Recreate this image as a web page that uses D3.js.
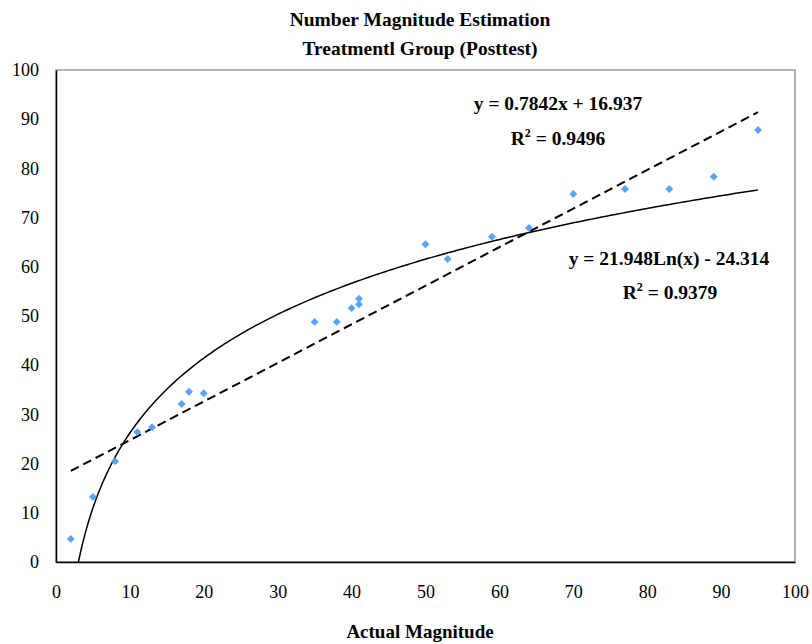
<!DOCTYPE html>
<html>
<head>
<meta charset="utf-8">
<script src="https://cdn.jsdelivr.net/npm/d3@7"></script>
<style>
  body { margin: 0; background: #fff; }
</style>
</head>
<body>
<div id="chart"></div>
<script>
// data
const actual = [2, 5, 8, 11, 13, 17, 18, 20, 35, 38, 40, 41, 41, 50, 53, 59, 64, 70, 77, 83, 89, 95];
const estimate = [4.7, 13.2, 20.5, 26.4, 27.4, 32.1, 34.6, 34.3, 48.8, 48.8, 51.6, 53.5, 52.4, 64.6, 61.6, 66.1, 67.9, 74.8, 75.8, 75.8, 78.3, 87.8];
const xTicks = [0, 10, 20, 30, 40, 50, 60, 70, 80, 90, 100];
const yTicks = [0, 10, 20, 30, 40, 50, 60, 70, 80, 90, 100];
const linFit = { slope: 0.7842, intercept: 16.937 };
const logFit = { a: 21.948, b: -24.314 };

const FONT = '"Liberation Serif", "Times New Roman", "DejaVu Serif", serif';
const width = 812;
const height = 644;
const margin = { top: 70, right: 17, bottom: 82, left: 56 };

const svg = d3.select("#chart")
  .append("svg")
  .attr("width", width)
  .attr("height", height)
  .style("font-family", FONT);

const x = d3.scaleLinear().domain([0, 100]).range([margin.left, width - margin.right]);
const y = d3.scaleLinear().domain([0, 100]).range([height - margin.bottom, margin.top]);

// plot frame: gray top/right, black left/bottom
svg.append("rect")
  .attr("x", x(0)).attr("y", y(100))
  .attr("width", x(100) - x(0)).attr("height", y(0) - y(100))
  .attr("fill", "none").attr("stroke", "#999").attr("stroke-width", 1.5);

svg.append("g")
  .attr("transform", `translate(0,${y(0)})`)
  .call(d3.axisBottom(x).tickValues(xTicks).tickSize(0).tickPadding(23))
  .attr("font-family", null)
  .call(g => g.select(".domain").attr("stroke", "#000").attr("stroke-width", 1.5))
  .selectAll("text").style("font-size", "18px").style("font-family", FONT);

svg.append("g")
  .attr("transform", `translate(${x(0)},0)`)
  .call(d3.axisLeft(y).tickValues(yTicks).tickSize(0).tickPadding(17))
  .attr("font-family", null)
  .call(g => g.select(".domain").attr("stroke", "#000").attr("stroke-width", 1.5))
  .selectAll("text").style("font-size", "18px").style("font-family", FONT);

// trend lines
const xExt = d3.extent(actual);
const linLine = d3.line().x(d => x(d)).y(d => y(linFit.slope * d + linFit.intercept));
svg.append("path")
  .datum(xExt)
  .attr("d", linLine)
  .attr("fill", "none").attr("stroke", "#000").attr("stroke-width", 2)
  .attr("stroke-dasharray", "9,5");

const xStart = Math.exp(-logFit.b / logFit.a);
const logPts = d3.range(0, 201).map(i => xStart + (xExt[1] - xStart) * i / 200);
const logLine = d3.line().x(d => x(d)).y(d => y(logFit.a * Math.log(d) + logFit.b));
svg.append("path")
  .datum(logPts)
  .attr("d", logLine)
  .attr("fill", "none").attr("stroke", "#000").attr("stroke-width", 1.5);

// points
svg.append("g")
  .selectAll("path")
  .data(actual.map((d, i) => [d, estimate[i]]))
  .join("path")
  .attr("d", d3.symbol(d3.symbolDiamond2, 40))
  .attr("transform", d => `translate(${x(d[0])},${y(d[1])})`)
  .attr("fill", "#5aa2fb");

// titles
function boldText(cx, cy, txt, size) {
  return svg.append("text").attr("x", cx).attr("y", cy).attr("text-anchor", "middle")
    .style("font-family", FONT).style("font-size", (size || 19.5) + "px")
    .style("font-weight", "bold").text(txt);
}
boldText(420, 26, "Number Magnitude Estimation");
boldText(420, 55, "Treatmentl Group (Posttest)");
boldText(420, 638, "Actual Magnitude", 19);

// equation labels
function r2Label(cx, cy, val) {
  const t = boldText(cx, cy, null);
  t.append("tspan").text("R");
  t.append("tspan").attr("dy", -8).style("font-size", "12px").text("2");
  t.append("tspan").attr("dy", 8).text(" = " + val);
}
boldText(558, 110, "y = 0.7842x + 16.937");
r2Label(558, 145, "0.9496");
boldText(669, 265, "y = 21.948Ln(x) - 24.314");
r2Label(670, 299, "0.9379");
</script>
</body>
</html>
